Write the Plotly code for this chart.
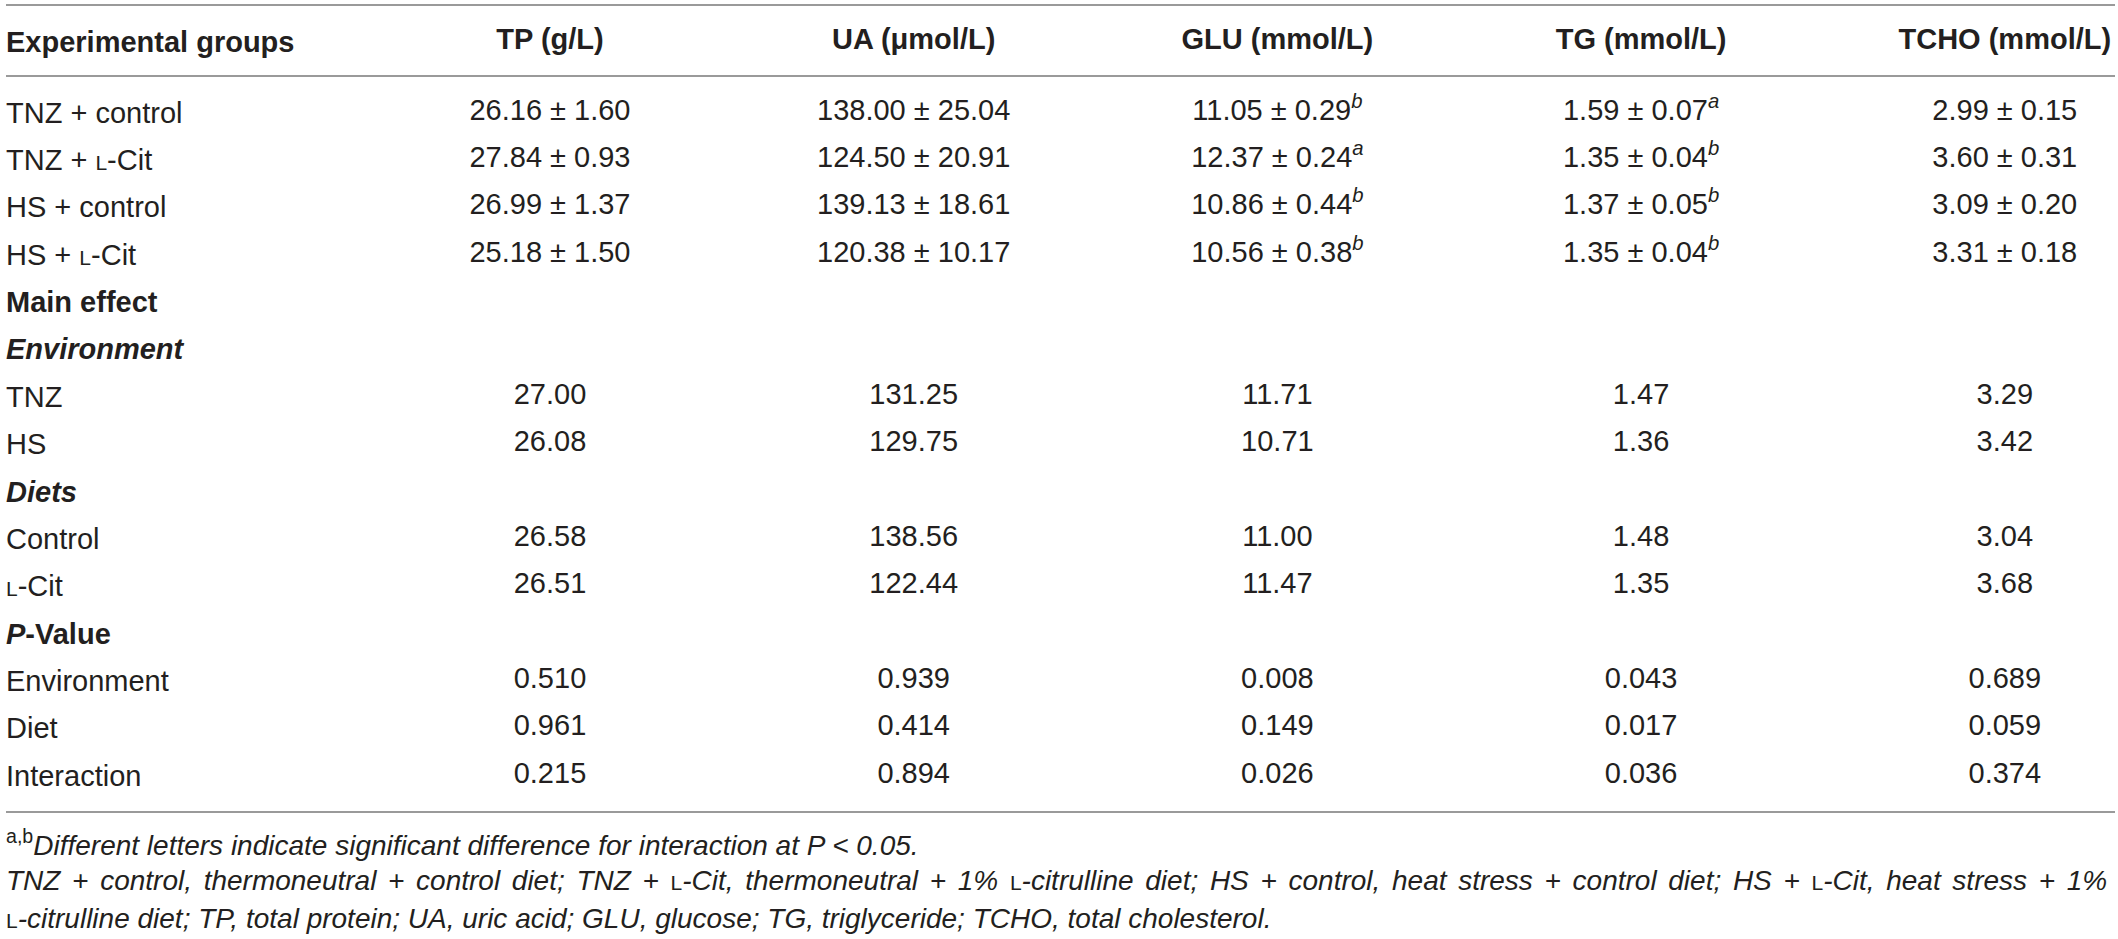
import plotly.graph_objects as go

# rows of the table
group_rows = ["TNZ + control", "TNZ + L-Cit", "HS + control", "HS + L-Cit"]
env_rows = ["TNZ", "HS"]
diet_rows = ["Control", "L-Cit"]
p_rows = ["Environment", "Diet", "Interaction"]

columns = ["TP (g/L)", "UA (μmol/L)", "GLU (mmol/L)", "TG (mmol/L)", "TCHO (mmol/L)"]

# mean and SE of each experimental group
tp_mean = [26.16, 27.84, 26.99, 25.18]
tp_se = [1.60, 0.93, 1.37, 1.50]
ua_mean = [138.00, 124.50, 139.13, 120.38]
ua_se = [25.04, 20.91, 18.61, 10.17]
glu_mean = [11.05, 12.37, 10.86, 10.56]
glu_se = [0.29, 0.24, 0.44, 0.38]
glu_letter = ["b", "a", "b", "b"]
tg_mean = [1.59, 1.35, 1.37, 1.35]
tg_se = [0.07, 0.04, 0.05, 0.04]
tg_letter = ["a", "b", "b", "b"]
tcho_mean = [2.99, 3.60, 3.09, 3.31]
tcho_se = [0.15, 0.31, 0.20, 0.18]

# main effects, one value per column (TP, UA, GLU, TG, TCHO)
env_tnz = [27.00, 131.25, 11.71, 1.47, 3.29]
env_hs = [26.08, 129.75, 10.71, 1.36, 3.42]
diet_control = [26.58, 138.56, 11.00, 1.48, 3.04]
diet_lcit = [26.51, 122.44, 11.47, 1.35, 3.68]

# P-values
p_environment = [0.510, 0.939, 0.008, 0.043, 0.689]
p_diet = [0.961, 0.414, 0.149, 0.017, 0.059]
p_interaction = [0.215, 0.894, 0.026, 0.036, 0.374]

FONT = "Liberation Sans, Arial, Helvetica, sans-serif"
TEXT = "#231f20"
RULE = "#9a9a9a"
SIZE = 29
SC = '<span style="font-size:21px">L</span>'


def label(s):
    # small-capital L for L-citrulline
    return s.replace("L-", SC + "-")


group_means = [tp_mean, ua_mean, glu_mean, tg_mean, tcho_mean]
group_ses = [tp_se, ua_se, glu_se, tg_se, tcho_se]
group_letters = [None, None, glu_letter, tg_letter, None]

row_order = (
    [label(r) for r in group_rows]
    + ["<b>Main effect</b>", "<b><i>Environment</i></b>"]
    + [label(r) for r in env_rows]
    + ["<b><i>Diets</i></b>"]
    + [label(r) for r in diet_rows]
    + ["<b><i>P</i>-Value</b>"]
    + [label(r) for r in p_rows]
)

fig = go.Figure()

for ci, col in enumerate(columns):
    ys, texts = [], []
    for gi, g in enumerate(group_rows):
        t = f"{group_means[ci][gi]:.2f} ± {group_ses[ci][gi]:.2f}"
        if group_letters[ci] is not None:
            t += f"<sup><i>{group_letters[ci][gi]}</i></sup>"
        ys.append(label(g))
        texts.append(t)
    for r, vals in zip(env_rows, [env_tnz, env_hs]):
        ys.append(label(r))
        texts.append(f"{vals[ci]:.2f}")
    for r, vals in zip(diet_rows, [diet_control, diet_lcit]):
        ys.append(label(r))
        texts.append(f"{vals[ci]:.2f}")
    for r, vals in zip(p_rows, [p_environment, p_diet, p_interaction]):
        ys.append(label(r))
        texts.append(f"{vals[ci]:.3f}")
    fig.add_trace(go.Scatter(
        x=[col] * len(ys), y=ys, text=texts, mode="text",
        textposition="middle center",
        textfont=dict(family=FONT, size=SIZE, color=TEXT),
        hoverinfo="skip", showlegend=False, cliponaxis=False,
    ))

fig.update_xaxes(
    type="category", categoryorder="array", categoryarray=columns,
    tickvals=columns, ticktext=[f"<b>{c}</b>" for c in columns],
    side="top", range=[-1.4957, 4.303],
    showgrid=False, zeroline=False, ticks="",
    ticklabelstandoff=14,
    tickfont=dict(family=FONT, size=SIZE, color=TEXT),
    showline=True, mirror=True, linecolor=RULE, linewidth=2,
    fixedrange=True,
)
fig.update_yaxes(
    type="category", categoryorder="array", categoryarray=row_order,
    range=[14.75, -0.75],
    showgrid=False, zeroline=False, ticks="", showline=False,
    ticklabelposition="inside", ticklabelstandoff=-3,
    tickfont=dict(family=FONT, size=SIZE, color=TEXT),
    fixedrange=True,
)

# top rule above the header
fig.add_shape(type="line", xref="paper", yref="paper", x0=0, x1=1,
              y0=1 + 72 / 734, y1=1 + 72 / 734,
              line=dict(color=RULE, width=2))

fig.add_annotation(text="<b>Experimental groups</b>", xref="paper", yref="paper",
                   x=0, y=1, xanchor="left", yanchor="middle", yshift=35, xshift=-2,
                   showarrow=False, font=dict(family=FONT, size=SIZE, color=TEXT))

notes = [
    "<sup>a,b</sup><i>Different letters indicate significant difference for interaction at P &lt; 0.05.</i>",
    '<span style="word-spacing:3.9px"><i>TNZ + control, thermoneutral + control diet; TNZ + </i>' + SC
    + "<i>-Cit, thermoneutral + 1% </i>" + SC
    + "<i>-citrulline diet; HS + control, heat stress + control diet; HS + </i>" + SC
    + "<i>-Cit, heat stress + 1%</i></span>",
    SC + "<i>-citrulline diet; TP, total protein; UA, uric acid; GLU, glucose; TG, triglyceride; TCHO, total cholesterol.</i>",
]
for i, note in enumerate(notes):
    fig.add_annotation(text=note, xref="paper", yref="paper", x=0, y=0,
                       xanchor="left", yanchor="middle", yshift=-(32 + 37.5 * i), xshift=-2,
                       showarrow=False, align="left",
                       font=dict(family=FONT, size=28, color=TEXT))

fig.update_layout(
    width=2118, height=939,
    margin=dict(l=6, r=3, t=77, b=128),
    paper_bgcolor="white", plot_bgcolor="white",
    font=dict(family=FONT, color=TEXT),
)

fig.write_html("out.html", config={"displayModeBar": False},
               post_script="document.body.style.margin = '0';")
